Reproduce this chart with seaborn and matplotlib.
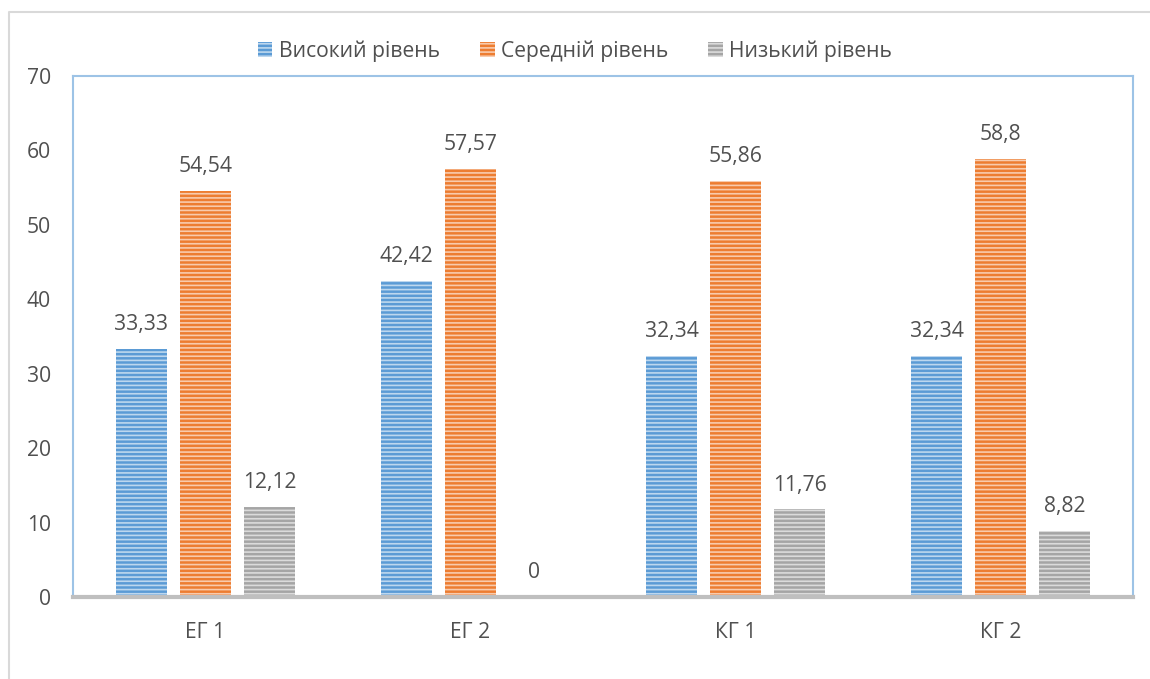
import matplotlib
matplotlib.use("Agg")
import matplotlib.pyplot as plt
import matplotlib.colors as mcolors
from matplotlib.patches import Patch
from matplotlib.lines import Line2D
import seaborn as sns
import pandas as pd

groups = ["ЕГ 1", "ЕГ 2", "КГ 1", "КГ 2"]
levels = ["Високий рівень", "Середній рівень", "Низький рівень"]
high = [33.33, 42.42, 32.34, 32.34]
medium = [54.54, 57.57, 55.86, 58.8]
low = [12.12, 0, 11.76, 8.82]
y_ticks = [0, 10, 20, 30, 40, 50, 60, 70]

colors = ["#5B9BD5", "#ED7D31", "#A5A5A5"]
text_color = "#505050"
fs = 15.2

df = pd.DataFrame({
    "group": groups * 3,
    "level": [levels[0]] * 4 + [levels[1]] * 4 + [levels[2]] * 4,
    "value": high + medium + low,
})

sns.set_theme(style="white")
plt.rcParams["font.family"] = ["Open Sans", "DejaVu Sans"]
plt.rcParams["hatch.linewidth"] = 1.2

fig = plt.figure(figsize=(11.5, 6.79), dpi=100)
ax = fig.add_axes([73 / 1150, 1 - 597 / 679, (1133 - 73) / 1150, (597 - 76) / 679])

sns.barplot(data=df, x="group", y="value", hue="level", order=groups,
            hue_order=levels, palette=colors, width=0.725, gap=0.19,
            ax=ax, legend=False, saturation=1)


def light(c, amt=0.6):
    r, g, b = mcolors.to_rgb(c)
    return (r + (1 - r) * amt, g + (1 - g) * amt, b + (1 - b) * amt)


for cont, col in zip(ax.containers, colors):
    for bar in cont:
        bar.set_facecolor(col)
        bar.set_edgecolor(light(col))
        bar.set_linewidth(0)
        bar.set_hatch("----")
    labels = [f"{v:g}".replace(".", ",") for v in cont.datavalues]
    ax.bar_label(cont, labels=labels, padding=10, fontsize=fs, color=text_color)

ax.set_ylim(0, 70)
ax.set_yticks(y_ticks)
ax.set_xlim(-0.5, 3.5)
ax.set_xlabel("")
ax.set_ylabel("")
ax.tick_params(axis="both", length=0, labelsize=fs, colors=text_color)
ax.tick_params(axis="y", pad=16)
ax.tick_params(axis="x", pad=18)

for side in ["left", "top", "right"]:
    ax.spines[side].set_color("#9DC3E6")
    ax.spines[side].set_linewidth(1.5)
ax.spines["bottom"].set_color("#BFBFBF")
ax.spines["bottom"].set_linewidth(3)

handles = [Patch(facecolor=c, edgecolor=light(c), hatch="----", linewidth=0) for c in colors]
fig.legend(handles, levels, loc="center", bbox_to_anchor=(0.5, 1 - 51 / 679), ncol=3,
           frameon=False, fontsize=fs, handlelength=0.7, handleheight=0.7,
           handletextpad=0.3, columnspacing=1.9, labelcolor=text_color)

# outer chart frame
fig.add_artist(Line2D([9 / 1150, 9 / 1150, 1.0], [0.0, 1 - 12 / 679, 1 - 12 / 679],
                      transform=fig.transFigure, color="#D9D9D9", linewidth=1.5))

fig.savefig("out.png", dpi=100, facecolor="white")
